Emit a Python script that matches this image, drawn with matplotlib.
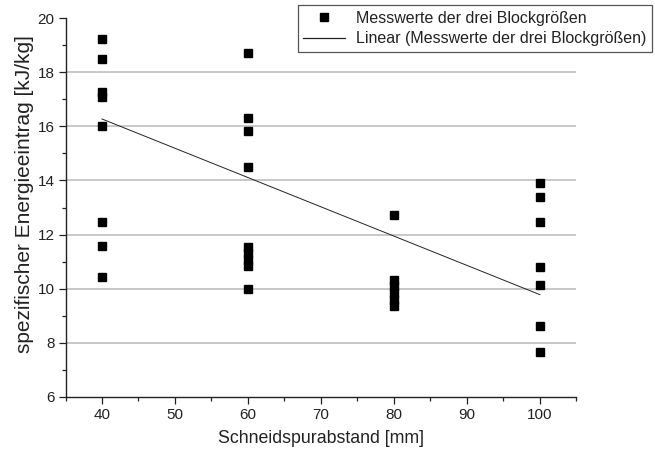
import matplotlib
matplotlib.use("Agg")
import matplotlib.pyplot as plt
from matplotlib.ticker import MultipleLocator
from matplotlib.lines import Line2D

plt.rcParams['font.family'] = ['Liberation Sans', 'DejaVu Sans']

# Schneidspurabstand [mm] and measured specific energy input [kJ/kg]
spacing_40 = [19.24, 18.49, 17.28, 17.10, 16.00, 12.45, 11.59, 10.43]
spacing_60 = [18.72, 16.32, 15.83, 14.51, 11.53, 11.33, 11.07, 10.83, 9.99]
spacing_80 = [12.74, 10.33, 10.10, 9.85, 9.60, 9.35]
spacing_100 = [13.89, 13.37, 12.45, 10.79, 10.14, 8.61, 7.66]
spacings = [40, 60, 80, 100]

# linear trend line end points
trend_x = [40, 100]
trend_y = [16.27, 9.78]

x_label = "Schneidspurabstand [mm]"
y_label = "spezifischer Energieeintrag [kJ/kg]"
series_label = "Messwerte der drei Blockgrößen"
trend_label = "Linear (Messwerte der drei Blockgrößen)"

groups = [spacing_40, spacing_60, spacing_80, spacing_100]
xs, ys = [], []
for s, vals in zip(spacings, groups):
    xs += [s] * len(vals)
    ys += vals

fig = plt.figure(figsize=(6.55, 4.57), dpi=100)
ax = fig.add_axes([0.100, 0.1313, 0.780, 0.8293])

ax.plot(xs, ys, linestyle='none', marker='s', markersize=5.2,
        color='black', zorder=3)
ax.plot(trend_x, trend_y, color='#222222', linewidth=0.7, zorder=2)

ax.set_xlim(35, 105)
ax.set_ylim(6, 20)
ax.xaxis.set_major_locator(MultipleLocator(10))
ax.xaxis.set_minor_locator(MultipleLocator(5))
ax.yaxis.set_major_locator(MultipleLocator(2))
ax.yaxis.set_minor_locator(MultipleLocator(1))

ax.grid(axis='y', which='major', color='#c4c4c4', linewidth=1.3, zorder=0)
ax.set_axisbelow(True)
for gl, val in zip(ax.get_ygridlines(), ax.get_yticks()):
    if val >= 20 or val <= 6:
        gl.set_visible(False)

for side in ('top', 'right'):
    ax.spines[side].set_visible(False)
for side in ('left', 'bottom'):
    ax.spines[side].set_linewidth(1.0)
    ax.spines[side].set_color('#222222')

ax.tick_params(which='major', direction='out', length=5, width=0.9,
               labelsize=11, colors='#222222', pad=3)
ax.tick_params(which='minor', direction='out', length=3, width=0.9,
               colors='#222222')

ax.set_xlabel(x_label, fontsize=12.8, color='#222222', labelpad=6)
ax.set_ylabel(y_label, fontsize=15, color='#222222')
ax.yaxis.set_label_coords(-0.062, 0.535)

handles = [
    Line2D([], [], linestyle='none', marker='s', markersize=5.2, color='black'),
    Line2D([], [], color='#222222', linewidth=0.9),
]
leg = fig.legend(handles, [series_label, trend_label],
                 loc='upper right', bbox_to_anchor=(652 / 655, 1 - 5 / 457),
                 bbox_transform=fig.transFigure, fontsize=11.5,
                 frameon=True, fancybox=False, framealpha=1,
                 edgecolor='#555555', borderpad=0.35, labelspacing=0.35,
                 handlelength=2.6, handletextpad=0.7, borderaxespad=0)
leg.get_frame().set_linewidth(0.9)
for t in leg.get_texts():
    t.set_color('#222222')

fig.savefig("out.png", dpi=100)
